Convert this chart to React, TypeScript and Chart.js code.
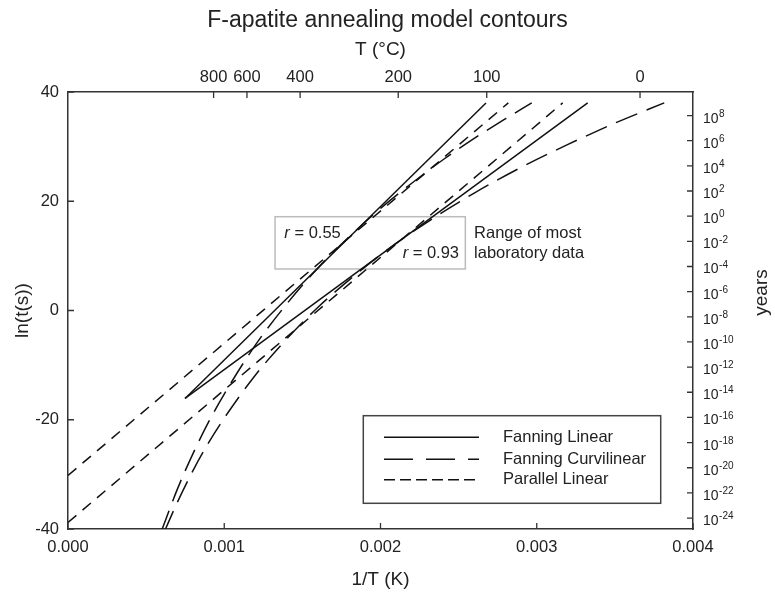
import React, { useEffect, useRef } from 'react';
import { Chart, registerables } from 'chart.js';

Chart.register(...registerables);

const FONT = '"Liberation Sans", Arial, Helvetica, sans-serif';
const TEXT = '#222';
const AXIS = '#333';

// ---- axes ----
const xMin = 0;
const xMax = 0.004;
const xStep = 0.001;
const yMin = -40;
const yMax = 40;
const yStep = 20;
const tempTicksC = [800, 600, 400, 200, 100, 0];
const yearExponents = [8, 6, 4, 2, 0, -2, -4, -6, -8, -10, -12, -14, -16, -18, -20, -22, -24];
const SECONDS_PER_YEAR = 31557600;

// ---- series (1/T in 1/K, ln(t) with t in s) ----
const fanLinUpperX = [0.000749, 0.002675];
const fanLinUpperY = [-16.1, 38.0];
const fanLinLowerX = [0.000749, 0.003326];
const fanLinLowerY = [-16.1, 38.0];

const fanCurvUpperX = [0.000595, 0.0007, 0.0008, 0.0009, 0.001, 0.0012, 0.0014, 0.0016, 0.0018, 0.002, 0.0022, 0.0024, 0.0026, 0.0028, 0.002968];
const fanCurvUpperY = [-40.6, -32.7, -26.2, -20.4, -15.3, -6.3, 1.2, 7.8, 13.5, 18.7, 23.3, 27.6, 31.5, 35.1, 38.0];
const fanCurvLowerX = [0.000615, 0.0007, 0.0008, 0.0009, 0.001, 0.0012, 0.0014, 0.0016, 0.0018, 0.002, 0.0023, 0.0026, 0.0029, 0.0032, 0.0035, 0.003816];
const fanCurvLowerY = [-40.6, -35.1, -29.3, -24.2, -19.7, -11.8, -5.2, 0.6, 5.6, 10.2, 16.2, 21.5, 26.2, 30.4, 34.3, 38.0];

const parLinUpperX = [0, 0.002818];
const parLinUpperY = [-30.2, 38.0];
const parLinLowerX = [0, 0.003166];
const parLinLowerY = [-38.8, 38.0];

// ---- annotations ----
const legendLabels = ['Fanning Linear', 'Fanning Curvilinear', 'Parallel Linear'];
const rangeBoxX = [0.001325, 0.002543];
const rangeBoxY = [7.6, 17.17];
const rValues = ['0.55', '0.93'];
const rangeText = ['Range of most', 'laboratory data'];

const DASH_CURV = [23, 10];
const DASH_PAR = [11, 8];

const pts = (xs: number[], ys: number[]) => xs.map((x, i) => ({ x, y: ys[i] }));

const lineDs = (label: string, xs: number[], ys: number[], dash: number[], smooth = false) => ({
  label,
  data: pts(xs, ys),
  showLine: true,
  borderColor: '#111',
  backgroundColor: '#111',
  borderWidth: 1.5,
  borderDash: dash,
  pointRadius: 0,
  pointHoverRadius: 0,
  fill: false,
  cubicInterpolationMode: smooth ? 'monotone' : 'default',
  tension: 0,
});

const decorPlugin = {
  id: 'decor',
  beforeDatasetsDraw(chart: any) {
    const { ctx, scales } = chart;
    const x = scales.x;
    const y = scales.y;
    const l = x.getPixelForValue(rangeBoxX[0]);
    const r = x.getPixelForValue(rangeBoxX[1]);
    const t = y.getPixelForValue(rangeBoxY[1]);
    const b = y.getPixelForValue(rangeBoxY[0]);
    ctx.save();
    ctx.strokeStyle = '#bbbbbb';
    ctx.lineWidth = 1.5;
    ctx.strokeRect(l, t, r - l, b - t);
    ctx.fillStyle = TEXT;
    ctx.textBaseline = 'alphabetic';
    // r = 0.55
    ctx.textAlign = 'left';
    ctx.font = `italic 16.5px ${FONT}`;
    ctx.fillText('r', l + 9.3, t + 21.6);
    const rw = ctx.measureText('r').width;
    ctx.font = `16.5px ${FONT}`;
    ctx.fillText(` = ${rValues[0]}`, l + 9.3 + rw, t + 21.6);
    // r = 0.93 (right aligned)
    const s2 = ` = ${rValues[1]}`;
    const w2 = ctx.measureText(s2).width;
    ctx.fillText(s2, r - 6.3 - w2, t + 41.6);
    ctx.font = `italic 16.5px ${FONT}`;
    ctx.fillText('r', r - 6.3 - w2 - rw, t + 41.6);
    ctx.font = `16.5px ${FONT}`;
    ctx.fillText(rangeText[0], r + 8.7, t + 21.6);
    ctx.fillText(rangeText[1], r + 8.7, t + 41.6);
    ctx.restore();
  },
  afterDraw(chart: any) {
    const { ctx, chartArea: ca, scales } = chart;
    ctx.save();
    ctx.strokeStyle = AXIS;
    ctx.lineWidth = 1.3;
    const TL = 6;
    ctx.beginPath();
    scales.x.ticks.forEach((tk: any) => {
      const p = scales.x.getPixelForValue(tk.value);
      ctx.moveTo(p, ca.bottom);
      ctx.lineTo(p, ca.bottom - TL);
    });
    scales.x2.ticks.forEach((tk: any) => {
      const p = scales.x2.getPixelForValue(tk.value);
      ctx.moveTo(p, ca.top);
      ctx.lineTo(p, ca.top + TL);
    });
    scales.y.ticks.forEach((tk: any) => {
      const p = scales.y.getPixelForValue(tk.value);
      ctx.moveTo(ca.left, p);
      ctx.lineTo(ca.left + TL, p);
    });
    scales.y2.ticks.forEach((tk: any) => {
      const p = scales.y2.getPixelForValue(tk.value);
      ctx.moveTo(ca.right, p);
      ctx.lineTo(ca.right - TL, p);
    });
    ctx.stroke();

    // right axis labels: 10^k
    ctx.fillStyle = TEXT;
    ctx.textAlign = 'left';
    ctx.textBaseline = 'alphabetic';
    scales.y2.ticks.forEach((tk: any, i: number) => {
      const p = scales.y2.getPixelForValue(tk.value);
      const bx = ca.right + 10;
      const base = p + 7;
      ctx.font = `14px ${FONT}`;
      ctx.fillText('10', bx, base);
      const w = ctx.measureText('10').width;
      ctx.font = `10px ${FONT}`;
      ctx.fillText(String(yearExponents[i]), bx + w + 0.5, base - 5.8);
    });

    // right axis title
    ctx.save();
    ctx.translate(762, (ca.top + ca.bottom) / 2 - 18);
    ctx.rotate(-Math.PI / 2);
    ctx.font = `19px ${FONT}`;
    ctx.textAlign = 'center';
    ctx.textBaseline = 'middle';
    ctx.fillText('years', 0, 0);
    ctx.restore();

    // legend
    const lx0 = ca.left + 295.3;
    const lx1 = ca.right - 32.3;
    const ly0 = ca.bottom - 113.3;
    const ly1 = ca.bottom - 25.7;
    ctx.strokeStyle = '#444';
    ctx.lineWidth = 1.5;
    ctx.setLineDash([]);
    ctx.strokeRect(lx0, ly0, lx1 - lx0, ly1 - ly0);
    const rows = [21.6, 43.6, 64];
    const dashes = [[], [29, 13], [11, 5]];
    ctx.strokeStyle = '#111';
    legendLabels.forEach((lab, i) => {
      const yy = ly0 + rows[i];
      ctx.beginPath();
      ctx.setLineDash(dashes[i]);
      ctx.moveTo(lx0 + 20.7, yy);
      ctx.lineTo(lx0 + 115.7, yy);
      ctx.stroke();
      ctx.setLineDash([]);
      ctx.font = `16.5px ${FONT}`;
      ctx.textAlign = 'left';
      ctx.textBaseline = 'middle';
      ctx.fillText(lab, lx0 + 139.7, yy);
    });
    ctx.restore();
  },
};

const tickFont = { family: FONT, size: 16.5 };
const titleFont = { family: FONT, size: 19 };

export default function App() {
  const ref = useRef<HTMLCanvasElement | null>(null);

  useEffect(() => {
    if (!ref.current) return;
    const chart = new Chart(ref.current, {
      type: 'scatter',
      data: {
        datasets: [
          lineDs('Fanning Linear', fanLinUpperX, fanLinUpperY, []),
          lineDs('Fanning Linear', fanLinLowerX, fanLinLowerY, []),
          lineDs('Fanning Curvilinear', fanCurvUpperX, fanCurvUpperY, DASH_CURV, true),
          lineDs('Fanning Curvilinear', fanCurvLowerX, fanCurvLowerY, DASH_CURV, true),
          lineDs('Parallel Linear', parLinUpperX, parLinUpperY, DASH_PAR),
          lineDs('Parallel Linear', parLinLowerX, parLinLowerY, DASH_PAR),
        ] as any,
      },
      options: {
        responsive: false,
        animation: false,
        layout: { padding: 0 },
        events: [],
        plugins: {
          legend: { display: false },
          tooltip: { enabled: false },
          title: {
            display: true,
            text: 'F-apatite annealing model contours',
            color: TEXT,
            font: { family: FONT, size: 23, weight: 'normal' },
            padding: { top: 6.7, bottom: 0 },
          },
        },
        scales: {
          x: {
            type: 'linear',
            position: 'bottom',
            min: xMin,
            max: xMax,
            grid: { display: false, drawTicks: false },
            border: { display: true, color: AXIS, width: 1.5 },
            ticks: {
              stepSize: xStep,
              autoSkip: false,
              maxRotation: 0,
              padding: 8.6,
              color: TEXT,
              font: tickFont,
              callback: (v: any) => Number(v).toFixed(3),
            },
            title: { display: true, text: '1/T (K)', color: TEXT, font: titleFont, padding: { top: 0, bottom: 1 } },
            afterFit: (s: any) => { s.height = 63; },
          },
          x2: {
            type: 'linear',
            position: 'top',
            min: xMin,
            max: xMax,
            grid: { display: false, drawTicks: false },
            border: { display: true, color: AXIS, width: 1.5 },
            afterBuildTicks: (s: any) => {
              s.ticks = tempTicksC.map((c) => ({ value: 1 / (c + 273.15) }));
            },
            ticks: {
              autoSkip: false,
              maxRotation: 0,
              padding: 4.7,
              color: TEXT,
              font: tickFont,
              callback: (_v: any, i: number) => String(tempTicksC[i]),
            },
            title: { display: true, text: 'T (°C)', color: TEXT, font: titleFont, padding: { top: 3.9, bottom: 0 } },
            afterFit: (s: any) => { s.height = 57.7; },
          },
          y: {
            type: 'linear',
            position: 'left',
            min: yMin,
            max: yMax,
            grid: { display: false, drawTicks: false },
            border: { display: true, color: AXIS, width: 1.5 },
            ticks: { stepSize: yStep, padding: 9, color: TEXT, font: tickFont },
            title: { display: true, text: 'ln(t(s))', color: TEXT, font: titleFont, padding: { top: 11.8, bottom: 0 } },
            afterFit: (s: any) => { s.width = 68; },
          },
          y2: {
            type: 'linear',
            position: 'right',
            min: yMin,
            max: yMax,
            grid: { display: false, drawTicks: false },
            border: { display: true, color: AXIS, width: 1.5 },
            afterBuildTicks: (s: any) => {
              s.ticks = yearExponents.map((k) => ({ value: Math.log(Math.pow(10, k) * SECONDS_PER_YEAR) }));
            },
            ticks: { display: false },
            afterFit: (s: any) => { s.width = 82; },
          },
        },
      } as any,
      plugins: [decorPlugin],
    });
    return () => chart.destroy();
  }, []);

  return (
    <div style={{ position: 'absolute', left: 0, top: 0, width: 775, height: 592, background: '#fff' }}>
      <canvas ref={ref} width={775} height={592} style={{ display: 'block' }} />
    </div>
  );
}
